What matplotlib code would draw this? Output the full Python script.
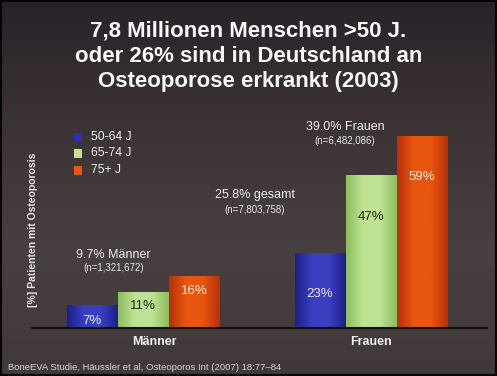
import numpy as np
import matplotlib
matplotlib.use("Agg")
import matplotlib.pyplot as plt
from matplotlib.patches import Rectangle
from matplotlib.colors import LinearSegmentedColormap
from matplotlib.transforms import ScaledTranslation

groups = ["Männer", "Frauen"]
age_groups = ["50-64 J", "65-74 J", "75+ J"]
values = {
    "50-64 J": [7, 23],
    "65-74 J": [11, 47],
    "75+ J": [16, 59],
}
bar_labels = {
    "50-64 J": ["7%", "23%"],
    "65-74 J": ["11%", "47%"],
    "75+ J": ["16%", "59%"],
}
group_titles = ["9.7% Männer", "39.0% Frauen"]
group_ns = ["(n=1,321,672)", "(n=6,482,086)"]
total_title = "25.8% gesamt"
total_n = "(n=7,803,758)"
title = "7,8 Millionen Menschen >50 J.\noder 26% sind in Deutschland an\nOsteoporose erkrankt (2003)"
ylabel = "[%] Patienten mit Osteoporosis"
footer = "BoneEVA Studie, Häussler et al, Osteoporos Int (2007) 18:77\u201384"

colors = {
    "50-64 J": ("#1c1f8a", "#3a3fc0"),
    "65-74 J": ("#8ebd5e", "#bfe394"),
    "75+ J": ("#b83208", "#e8560f"),
}
label_colors = {"50-64 J": "#e8e8f0", "65-74 J": "#1e2a14", "75+ J": "#f4e8e0"}

plt.rcParams['font.family'] = ['Liberation Sans', 'DejaVu Sans']

W, H = 497, 376
fig = plt.figure(figsize=(W / 100, H / 100), dpi=100)

# background gradient
bg = fig.add_axes([0, 0, 1, 1], zorder=-10)
grad = np.linspace(0, 1, 256).reshape(-1, 1)
bg_cmap = LinearSegmentedColormap.from_list("bg", ["#28222a", "#3c3335", "#483f40", "#413839"])
bg.imshow(grad, aspect="auto", cmap=bg_cmap, extent=[0, 1, 0, 1], origin="upper")
bg.set_axis_off()
bg.add_patch(Rectangle((0, 0), 1, 1, transform=bg.transAxes, fill=False,
                       edgecolor="#050505", linewidth=3))

left_px, right_px, base_px, top_px = 32, 487, 328, 120
ax = fig.add_axes([left_px / W, 1 - base_px / H, (right_px - left_px) / W, (base_px - top_px) / H])
ax.set_facecolor("none")
ax.set_xlim(-(143 - left_px) / 228, 1 + (right_px - 371) / 228)
ax.set_ylim(0, (base_px - top_px) / 3.25)

x = np.arange(len(groups))
w = 51 / 228
offsets = [-w, 0, w]

label_y = {"50-64 J": [2.3, 10.5], "65-74 J": [6.8, 34.0], "75+ J": [11.5, 46.5]}

for i, ag in enumerate(age_groups):
    dark, light = colors[ag]
    bars = ax.bar(x + offsets[i], values[ag], width=w, color=light, edgecolor="none", zorder=2)
    cmap = LinearSegmentedColormap.from_list("c" + ag, [dark, light, light, dark])
    hgrad = np.linspace(0, 1, 64).reshape(1, -1)
    for j, (b, lab) in enumerate(zip(bars, bar_labels[ag])):
        x0, y0 = b.get_x(), b.get_y()
        bw, bh = b.get_width(), b.get_height()
        im = ax.imshow(hgrad, aspect="auto", cmap=cmap, extent=[x0, x0 + bw, y0, y0 + bh],
                       zorder=3, interpolation="bicubic")
        im.set_clip_path(b)
        ax.text(x0 + bw / 2, label_y[ag][j], lab, ha="center", va="center", fontsize=9.5,
                color=label_colors[ag], zorder=4)

ax.set_xticks(x)
ax.set_xticklabels(groups, fontsize=9, fontweight="bold", color="#f0f0f0")
ax.tick_params(axis="x", length=0, pad=6)
tl = ax.get_xticklabels()[0]
tl.set_transform(tl.get_transform() + ScaledTranslation(11 / 100, 0, fig.dpi_scale_trans))
ax.set_yticks([])
for s in ["top", "right", "left"]:
    ax.spines[s].set_visible(False)
ax.spines["bottom"].set_color("#141012")
ax.spines["bottom"].set_linewidth(1.5)
ax.spines["bottom"].set_zorder(5)

ax.set_ylabel(ylabel, fontsize=7.5, fontweight="bold", color="#e8e8e8")
ax.yaxis.set_label_coords(0.013, 0.47)

# group annotations
ax.text(-0.13, 22.5, group_titles[0], ha="center", va="center", fontsize=9, color="#f0f0f0")
ax.text(-0.13, 18.4, group_ns[0], ha="center", va="center", fontsize=7, color="#e8e8e8")
ax.text(0.49, 41.0, total_title, ha="center", va="center", fontsize=9, color="#f0f0f0")
ax.text(0.49, 36.4, total_n, ha="center", va="center", fontsize=7, color="#e8e8e8")
ax.text(0.886, 61.9, group_titles[1], ha="center", va="center", fontsize=9, color="#f0f0f0",
        clip_on=False)
ax.text(0.886, 57.5, group_ns[1], ha="center", va="center", fontsize=7, color="#e8e8e8",
        clip_on=False)

# legend
leg_x = 78
for i, ag in enumerate(age_groups):
    yc = 137 + i * 16.5
    dark, light = colors[ag]
    fig.patches.append(Rectangle(((leg_x - 4) / W, 1 - (yc + 4.5) / H), 8 / W, 9 / H,
                                 transform=fig.transFigure,
                                 facecolor=light if ag != "50-64 J" else "#2a2fb0",
                                 edgecolor="none"))
    fig.text((leg_x + 13) / W, 1 - yc / H, ag, ha="left", va="center", fontsize=8.7, color="#f0f0f0")

fig.text(0.5, 1 - 56 / H, title, ha="center", va="center", fontsize=16, fontweight="bold",
         color="#f8f8f8", linespacing=1.27)
fig.text(8 / W, 1 - 367 / H, footer, ha="left", va="center", fontsize=6.8, color="#d8d8d8")

fig.savefig("out.png", dpi=100)
